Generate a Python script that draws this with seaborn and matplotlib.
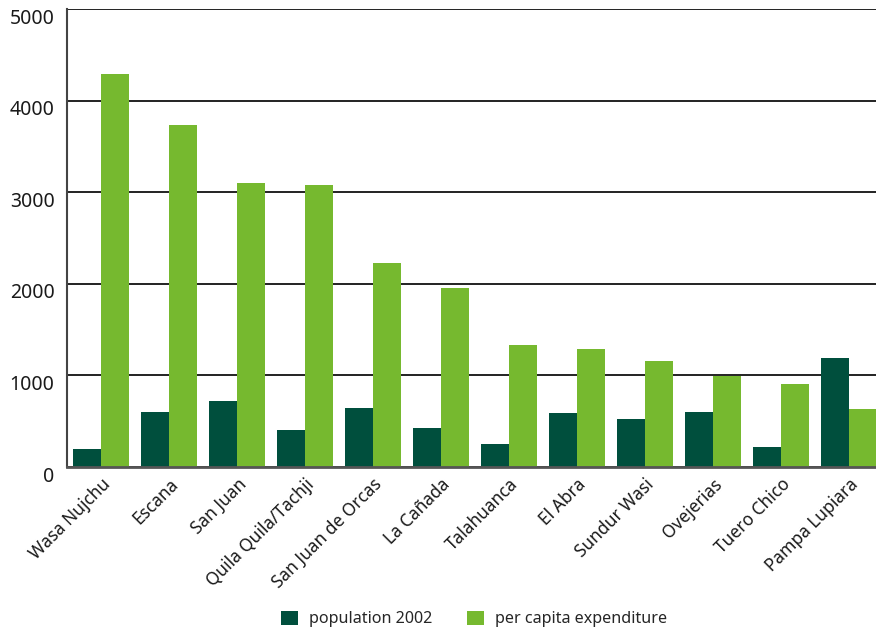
import matplotlib
matplotlib.use("Agg")
import matplotlib.pyplot as plt
import matplotlib.transforms as mtransforms
from matplotlib.patches import Patch
import seaborn as sns
import pandas as pd

communities = ["Wasa Nujchu", "Escana", "San Juan", "Quila Quila/Tachji",
               "San Juan de Orcas", "La Cañada", "Talahuanca", "El Abra",
               "Sundur Wasi", "Ovejerias", "Tuero Chico", "Pampa Lupiara"]
population_2002 = [200, 600, 720, 405, 645, 425, 250, 590, 525, 600, 218, 1190]
per_capita_expenditure = [4290, 3730, 3100, 3080, 2225, 1955, 1330, 1290, 1158, 998, 905, 632]
series_names = ["population 2002", "per capita expenditure"]
y_ticks = [0, 1000, 2000, 3000, 4000, 5000]

df = pd.DataFrame({
    "community": communities * 2,
    "series": [series_names[0]] * len(communities) + [series_names[1]] * len(communities),
    "value": population_2002 + per_capita_expenditure,
})

sns.set_theme(style="white")
plt.rcParams["font.family"] = ["Noto Sans", "DejaVu Sans"]

colors = ["#004f3d", "#76b92f"]

fig = plt.figure(figsize=(8.76, 6.31), dpi=100)
ax = fig.add_axes([67 / 876, (631 - 467) / 631, 816 / 876, (467 - 9) / 631])

sns.barplot(data=df, x="community", y="value", hue="series", palette=colors,
            width=0.82, gap=0, saturation=1, linewidth=0, edgecolor="none",
            ax=ax, legend=False)

ax.set_xlim(-0.5, 11.5)
ax.set_ylim(0, 5000)
ax.set_yticks(y_ticks)
ax.set_yticklabels([str(v) for v in y_ticks], fontsize=14, color="#1a1a1a")
ax.yaxis.grid(True, color="#111111", linewidth=1.3)
ax.set_axisbelow(True)
ax.set_xlabel("")
ax.set_ylabel("")

for lbl in ax.get_xticklabels():
    lbl.set_rotation(45)
    lbl.set_ha("right")
    lbl.set_rotation_mode("anchor")
    lbl.set_fontsize(12.5)
    lbl.set_color("#1a1a1a")

ax.tick_params(axis="y", length=0, pad=9)
ax.tick_params(axis="x", length=0, pad=6)

offset = mtransforms.ScaledTranslation(0, -7 / 100, fig.dpi_scale_trans)
for lbl in ax.get_yticklabels():
    lbl.set_transform(lbl.get_transform() + offset)

for side in ["top", "right"]:
    ax.spines[side].set_visible(False)
ax.spines["left"].set_color("#444444")
ax.spines["left"].set_linewidth(1.5)
ax.spines["bottom"].set_color("#555555")
ax.spines["bottom"].set_linewidth(2)

handles = [Patch(facecolor=colors[0], edgecolor="none", label=series_names[0]),
           Patch(facecolor=colors[1], edgecolor="none", label=series_names[1])]
fig.legend(handles=handles, loc="center", bbox_to_anchor=(474 / 876, 1 - 619 / 631),
           ncol=2, frameon=False, fontsize=11.6, handlelength=1.05, handleheight=1.05,
           handletextpad=0.65, columnspacing=2.2, borderaxespad=0, borderpad=0)

fig.savefig("out.png", dpi=100)
